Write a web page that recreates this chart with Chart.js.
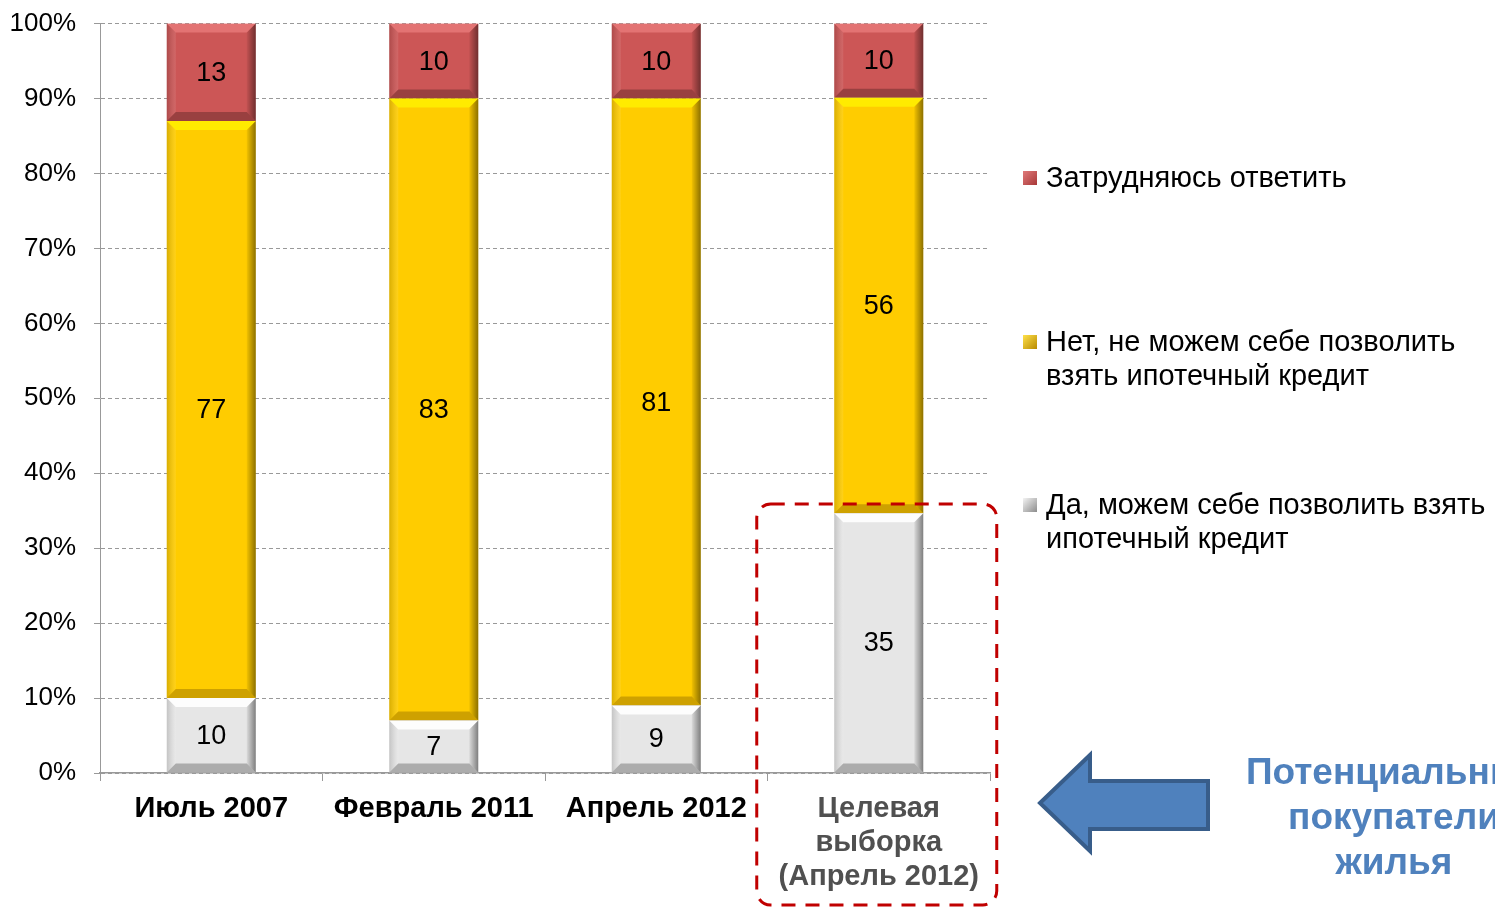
<!DOCTYPE html>
<html>
<head>
<meta charset="utf-8">
<script src="https://cdn.jsdelivr.net/npm/chart.js@4/dist/chart.umd.min.js"></script>
<style>
    html, body { margin: 0; padding: 0; background: #fff; overflow: hidden; }
    #wrap { position: relative; width: 1495px; height: 908px; overflow: hidden; font-family: "Liberation Sans", Arial, sans-serif; }
    #chart { position: absolute; left: 0; top: -10px; }
    .leg { position: absolute; left: 1046px; font-size: 29px; line-height: 34px; color: #000; white-space: nowrap; }
    .leg i { position: absolute; left: -23px; top: 11px; width: 14px; height: 14px; }
    #note { position: absolute; left: 1194px; top: 749px; width: 400px; text-align: center;
        font-size: 37px; line-height: 45px; font-weight: bold; color: #4F81BD; white-space: nowrap; }
    #arrow { position: absolute; left: 1030px; top: 745px; }
</style>
</head>
<body>
<div id="wrap">
    <canvas id="chart" width="1495" height="918"></canvas>
    <div class="leg" style="top:160px"><i style="background:linear-gradient(135deg,#e07a7a,#a83838)"></i>Затрудняюсь ответить</div>
    <div class="leg" style="top:324px"><i style="background:linear-gradient(135deg,#ffe14a,#b88a00)"></i>Нет, не можем себе позволить<br>взять ипотечный кредит</div>
    <div class="leg" style="top:487px"><i style="background:linear-gradient(135deg,#f4f4f4,#8c8c8c)"></i>Да, можем себе позволить взять<br>ипотечный кредит</div>
    <svg id="arrow" width="190" height="115">
        <polygon points="10,58 60,10 60,36 178,36 178,84 60,84 60,106" fill="#4F81BD" stroke="#385D8A" stroke-width="4" stroke-linejoin="miter"/>
    </svg>
    <div id="note">Потенциальные<br>покупатели<br>жилья</div>
</div>
<script>
const categories = ['Июль 2007', 'Февраль 2011', 'Апрель 2012', ['Целевая', 'выборка', '(Апрель 2012)']];
const yesValues = [10, 7, 9, 35];
const noValues = [77, 83, 81, 56];
const hardValues = [13, 10, 10, 10];
const yTicks = [0, 10, 20, 30, 40, 50, 60, 70, 80, 90, 100];

const totals = categories.map((c, i) => yesValues[i] + noValues[i] + hardValues[i]);
const toPct = arr => arr.map((v, i) => v / totals[i] * 100);

const seriesColors = ['#E6E6E6', '#FFCC00', '#CC5656'];
const raw = [yesValues, noValues, hardValues];

const bevelPlugin = {
    id: 'bevel',
    afterDatasetsDraw(chart) {
        const c = chart.ctx;
        chart.data.datasets.forEach((ds, di) => {
            const meta = chart.getDatasetMeta(di);
            meta.data.forEach((bar, i) => {
                const l = bar.x - bar.width / 2, r = bar.x + bar.width / 2;
                const t = Math.min(bar.y, bar.base), b = Math.max(bar.y, bar.base);
                const h = b - t;
                const s = Math.min(9, h / 2);
                c.save();
                // top light
                c.fillStyle = di === 1 ? 'rgba(255,240,0,0.85)' : (di === 0 ? 'rgba(255,255,255,0.9)' : 'rgba(255,150,150,0.45)');
                c.beginPath();
                c.moveTo(l, t); c.lineTo(r, t); c.lineTo(r - s, t + s); c.lineTo(l + s, t + s); c.closePath();
                c.fill();
                // bottom dark
                c.fillStyle = di === 1 ? 'rgba(80,50,0,0.28)' : 'rgba(0,0,0,0.25)';
                c.beginPath();
                c.moveTo(l, b); c.lineTo(r, b); c.lineTo(r - s, b - s); c.lineTo(l + s, b - s); c.closePath();
                c.fill();
                // right dark
                let g = c.createLinearGradient(r - s, 0, r, 0);
                g.addColorStop(0, 'rgba(0,0,0,0.05)');
                g.addColorStop(1, 'rgba(0,0,0,0.45)');
                c.fillStyle = g;
                c.beginPath();
                c.moveTo(r, t); c.lineTo(r, b); c.lineTo(r - s, b - s); c.lineTo(r - s, t + s); c.closePath();
                c.fill();
                // left light
                g = c.createLinearGradient(l, 0, l + s, 0);
                g.addColorStop(0, 'rgba(0,0,0,0.15)');
                g.addColorStop(1, 'rgba(255,255,255,0.1)');
                c.fillStyle = g;
                c.beginPath();
                c.moveTo(l, t); c.lineTo(l, b); c.lineTo(l + s, b - s); c.lineTo(l + s, t + s); c.closePath();
                c.fill();
                c.restore();

                // value label
                c.save();
                c.font = '27px "Liberation Sans", Arial, sans-serif';
                c.fillStyle = '#000';
                c.textAlign = 'center';
                c.textBaseline = 'middle';
                c.fillText(String(raw[di][i]), bar.x, (t + b) / 2 + 1);
                c.restore();
            });
        });

        // dashed frame around target sample
        const xs = chart.scales.x, ys = chart.scales.y;
        const cx = xs.getPixelForValue(3);
        const x0 = cx - 122, x1 = cx + 118, y0 = ys.getPixelForValue(35.9), y1 = 915;
        c.save();
        c.strokeStyle = '#C00000';
        c.lineWidth = 3;
        c.setLineDash([14, 10]);
        c.beginPath();
        c.roundRect(x0, y0, x1 - x0, y1 - y0, 14);
        c.stroke();
        c.restore();
    }
};

new Chart(document.getElementById('chart'), {
    type: 'bar',
    data: {
        labels: categories,
        datasets: [
            { label: 'Да, можем себе позволить взять ипотечный кредит', data: toPct(yesValues), backgroundColor: seriesColors[0] },
            { label: 'Нет, не можем себе позволить взять ипотечный кредит', data: toPct(noValues), backgroundColor: seriesColors[1] },
            { label: 'Затрудняюсь ответить', data: toPct(hardValues), backgroundColor: seriesColors[2] }
        ]
    },
    options: {
        responsive: false,
        animation: false,
        layout: { padding: { top: 8, right: 505, left: 0, bottom: 0 } },
        datasets: { bar: { categoryPercentage: 1, barPercentage: 0.4 } },
        plugins: { legend: { display: false }, tooltip: { enabled: false } },
        scales: {
            x: {
                stacked: true,
                grid: { offset: true, drawOnChartArea: false, tickLength: 8, color: '#999' },
                border: { color: '#999', width: 1.5 },
                ticks: {
                    font: { family: '"Liberation Sans", Arial, sans-serif', size: 29, weight: 'bold', lineHeight: 1.17 },
                    color: ctx => ctx.index === 3 ? '#505050' : '#000',
                    padding: 11,
                    maxRotation: 0
                },
                afterFit(scale) { scale.height = 135; }
            },
            y: {
                stacked: true,
                min: 0,
                max: 100,
                afterBuildTicks(scale) { scale.ticks = yTicks.map(v => ({ value: v })); },
                grid: { color: '#999', tickLength: 6 },
                border: { color: '#999', dash: [4, 3] },
                ticks: {
                    font: { family: '"Liberation Sans", Arial, sans-serif', size: 26 },
                    color: '#000',
                    padding: 18,
                    callback: v => v + '%'
                },
                afterFit(scale) { scale.width = 100; }
            }
        }
    },
    plugins: [bevelPlugin]
});
</script>
</body>
</html>
